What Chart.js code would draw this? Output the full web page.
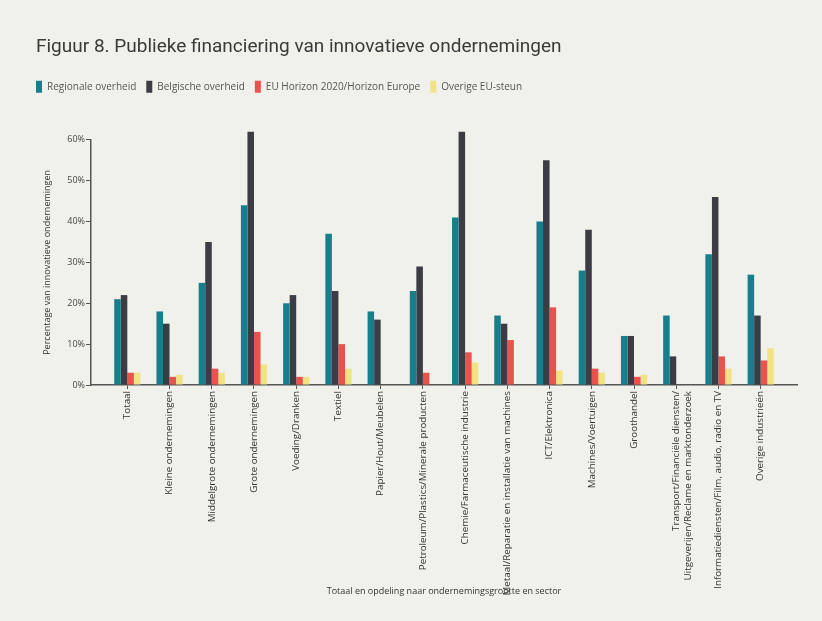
<!DOCTYPE html>
<html>
<head>
<meta charset="utf-8">
<script src="https://cdn.jsdelivr.net/npm/chart.js@4.4.1/dist/chart.umd.min.js"></script>
<style>
  html, body { margin: 0; padding: 0; background: #f1f1ec; }
  #wrap { width: 822px; height: 621px; }
</style>
</head>
<body>
<div id="wrap"><canvas id="myChart"></canvas></div>
<script>
const categories = [
  'Totaal',
  'Kleine ondernemingen',
  'Middelgrote ondernemingen',
  'Grote ondernemingen',
  'Voeding/Dranken',
  'Textiel',
  'Papier/Hout/Meubelen',
  'Petroleum/Plastics/Minerale producten',
  'Chemie/Farmaceutische industrie',
  'Metaal/Reparatie en installatie van machines',
  'ICT/Elektronica',
  'Machines/Voertuigen',
  'Groothandel',
  ['Transport/Financiële diensten/', 'Uitgeverijen/Reclame en marktonderzoek'],
  'Informatiediensten/Film, audio, radio en TV',
  'Overige industrieën'
];

const regionaal = [21, 18, 25, 44, 20, 37, 18, 23, 41, 17, 40, 28, 12, 17, 32, 27];
const belgisch  = [22, 15, 35, 62, 22, 23, 16, 29, 62, 15, 55, 38, 12, 7, 46, 17];
const horizon   = [3, 2, 4, 13, 2, 10, 0, 3, 8, 11, 19, 4, 2, 0, 7, 6];
const overigEU  = [3, 2.5, 3, 5, 2, 4, 0, 0, 5.5, 0, 3.5, 3, 2.5, 0, 4, 9];

const yTicks = [0, 10, 20, 30, 40, 50, 60];

const seriesNames = ['Regionale overheid', 'Belgische overheid', 'EU Horizon 2020/Horizon Europe', 'Overige EU-steun'];
const seriesColors = ['#187e8c', '#3b3c44', '#e8534e', '#f1e384'];

const bgPlugin = {
  id: 'bg',
  beforeDraw(chart) {
    const ctx = chart.ctx;
    ctx.save();
    ctx.fillStyle = '#f1f1ec';
    ctx.fillRect(0, 0, chart.width, chart.height);
    ctx.restore();
  }
};

// extra room under the legend
const legendGap = {
  id: 'legendGap',
  beforeInit(chart) {
    const fit = chart.legend.fit;
    chart.legend.fit = function () {
      fit.bind(chart.legend)();
      this.height += 37;
    };
  }
};

// legend flush with the title, x axis a bit longer than the bars
const tweakLayout = {
  id: 'tweakLayout',
  afterLayout(chart) {
    chart.legend.left -= 10;
    const x = chart.scales.x;
    const extra = 0.36;
    x._startValue = -0.5 - extra;
    x._valueRange = categories.length + 2 * extra;
  }
};

const datasets = [regionaal, belgisch, horizon, overigEU].map((d, i) => ({
  label: seriesNames[i],
  data: d,
  backgroundColor: seriesColors[i],
  borderWidth: 0,
  clip: false,
  categoryPercentage: 0.62,
  barPercentage: 1.0
}));

Chart.defaults.font.family = '"Open Sans", "Noto Sans", sans-serif';

new Chart(document.getElementById('myChart').getContext('2d'), {
  type: 'bar',
  data: { labels: categories, datasets: datasets },
  options: {
    responsive: true,
    maintainAspectRatio: false,
    animation: false,
    layout: { padding: { left: 36, right: 25, top: 28, bottom: 18 } },
    plugins: {
      title: {
        display: true,
        text: 'Figuur 8. Publieke financiering van innovatieve ondernemingen',
        align: 'start',
        color: '#3a3a3a',
        font: { family: 'Roboto, "Open Sans", sans-serif', size: 19, weight: 'normal' },
        padding: { top: 8, bottom: 12 }
      },
      legend: {
        position: 'top',
        align: 'start',
        labels: {
          boxWidth: 6,
          boxHeight: 12,
          color: '#555',
          font: { size: 10 },
          padding: 10
        }
      },
      tooltip: { enabled: false }
    },
    scales: {
      x: {
        offset: true,
        grid: { display: true, drawOnChartArea: false, offset: false, tickLength: 4, color: '#555' },
        border: { display: true, color: '#555', width: 1.5 },
        ticks: {
          autoSkip: false,
          minRotation: 90,
          maxRotation: 90,
          color: '#333',
          font: { size: 9.8 },
          padding: 2
        },
        title: {
          display: true,
          text: 'Totaal en opdeling naar ondernemingsgrootte en sector',
          color: '#333',
          font: { size: 9 },
          padding: { top: 0, bottom: 6 }
        },
        afterFit(scale) { scale.height = 218; }
      },
      y: {
        min: 0,
        max: 60,
        afterBuildTicks(scale) { scale.ticks = yTicks.map(v => ({ value: v })); },
        grid: { display: true, drawOnChartArea: false, tickLength: 5, color: '#555' },
        border: { display: true, color: '#555', width: 1.5 },
        ticks: {
          color: '#444',
          font: { size: 9 },
          padding: 1,
          callback: v => v + '%'
        },
        title: {
          display: true,
          text: 'Percentage van innovatieve ondernemingen',
          color: '#333',
          font: { size: 9 },
          padding: { top: 6, bottom: 4 }
        },
        afterFit(scale) { scale.width = 55; }
      }
    }
  },
  plugins: [bgPlugin, legendGap, tweakLayout]
});
</script>
</body>
</html>
